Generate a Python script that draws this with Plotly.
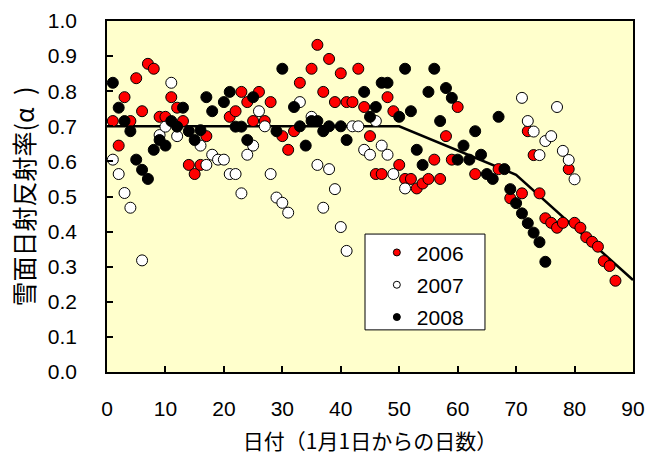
import plotly.graph_objects as go

# Snow-surface albedo by day of year (days since Jan 1)
days_2006 = [1, 2, 3, 4, 5, 6, 7, 8, 9, 10, 11, 12, 13, 14, 15, 16, 17,
             21, 22, 23, 24, 25, 26, 27, 28, 30, 31, 32, 33,
             35, 36, 37, 38, 39, 40, 41, 42, 43, 44, 45, 46, 47, 48, 49, 50,
             51, 52, 53, 54, 55, 56, 57, 58, 59, 60, 63, 67, 69, 71, 72, 73, 74,
             75, 76, 77, 78, 79, 80, 81, 82, 83, 84, 85, 86, 87]
albedo_2006 = [0.715, 0.645, 0.783, 0.715, 0.837, 0.743, 0.878, 0.864, 0.727, 0.727,
               0.783, 0.753, 0.715, 0.590, 0.564, 0.590, 0.672,
               0.727, 0.743, 0.798, 0.769, 0.715, 0.798, 0.715, 0.769, 0.672, 0.633, 0.686, 0.824,
               0.864, 0.932, 0.798, 0.892, 0.769, 0.851, 0.769, 0.769, 0.864, 0.755, 0.672,
               0.564, 0.564, 0.783, 0.743, 0.590,
               0.550, 0.550, 0.523, 0.537, 0.550, 0.605, 0.550, 0.672, 0.605, 0.755,
               0.564, 0.578, 0.495, 0.509, 0.686, 0.618, 0.509,
               0.438, 0.425, 0.411, 0.425, 0.578, 0.425, 0.411, 0.384, 0.371, 0.357,
               0.316, 0.302, 0.260]

days_2007 = [1, 2, 3, 4, 6, 9, 10, 11, 12, 16, 17, 18, 19, 20, 21, 22, 23, 24, 25,
             26, 27, 28, 29, 30, 31, 33, 35, 36, 37, 38, 39, 40, 41, 42, 43, 44, 45,
             46, 47, 48, 49, 51, 71, 72, 73, 74, 75, 76, 77, 78, 79, 80]
albedo_2007 = [0.605, 0.564, 0.510, 0.468, 0.318, 0.675, 0.699, 0.824, 0.672, 0.645,
               0.590, 0.619, 0.605, 0.605, 0.564, 0.564, 0.509, 0.619, 0.645,
               0.743, 0.700, 0.564, 0.497, 0.482, 0.454, 0.769, 0.727, 0.590, 0.468,
               0.578, 0.521, 0.413, 0.345, 0.700, 0.700, 0.633, 0.619,
               0.715, 0.645, 0.619, 0.564, 0.523, 0.781, 0.715, 0.685, 0.618, 0.658,
               0.672, 0.755, 0.630, 0.604, 0.549]

days_2008 = [1, 2, 3, 4, 5, 6, 7, 8, 9, 10, 11, 12, 13, 14, 15, 16, 17, 18, 20, 21,
             22, 23, 24, 25, 29, 30, 32, 33, 34, 35, 36, 37, 38, 40, 41, 44, 45, 46,
             47, 48, 50, 51, 52, 53, 54, 55, 56, 57, 58, 59, 60, 61, 62, 63, 64, 65,
             66, 67, 68, 69, 70, 71, 72, 73, 74, 75]
albedo_2008 = [0.824, 0.753, 0.715, 0.686, 0.605, 0.576, 0.550, 0.633, 0.661, 0.645,
               0.715, 0.699, 0.753, 0.686, 0.661, 0.689, 0.783, 0.743, 0.769, 0.798,
               0.699, 0.699, 0.661, 0.783, 0.686, 0.864, 0.755, 0.700, 0.645, 0.715,
               0.715, 0.686, 0.700, 0.700, 0.661, 0.798, 0.727, 0.755,
               0.824, 0.824, 0.727, 0.864, 0.743, 0.633, 0.590, 0.798, 0.864, 0.715,
               0.809, 0.781, 0.605, 0.645, 0.605, 0.686, 0.619, 0.564,
               0.550, 0.727, 0.578, 0.521, 0.481, 0.452, 0.424, 0.397, 0.370, 0.314]

# Piecewise albedo model line
model_days = [0, 50, 70, 90]
model_albedo = [0.70, 0.70, 0.562, 0.262]

years = ["2006", "2007", "2008"]
fill_colors = ["#FF0000", "#FFFFFF", "#000000"]
series = [(days_2006, albedo_2006), (days_2007, albedo_2007), (days_2008, albedo_2008)]

x_ticks = [0, 10, 20, 30, 40, 50, 60, 70, 80, 90]
y_ticks = [0.0, 0.1, 0.2, 0.3, 0.4, 0.5, 0.6, 0.7, 0.8, 0.9, 1.0]

fig = go.Figure()

fig.add_trace(go.Scatter(
    x=model_days, y=model_albedo, mode="lines",
    line=dict(color="black", width=2.5), showlegend=False, hoverinfo="skip"))

for (dx, dy), name, col in zip(series, years, fill_colors):
    fig.add_trace(go.Scatter(
        x=dx, y=dy, mode="markers", name=name, showlegend=False,
        marker=dict(size=11, color=col, line=dict(color="black", width=1))))

# small legend symbols
for name, col in zip(years, fill_colors):
    fig.add_trace(go.Scatter(
        x=[None], y=[None], mode="markers", name=name, legendgroup=name,
        marker=dict(size=7, color=col, line=dict(color="black", width=1))))

axis_common = dict(
    showline=True, linecolor="black", linewidth=1.5, mirror=True,
    ticks="inside", ticklen=6, tickwidth=1.5, tickcolor="black",
    showgrid=False, zeroline=False,
    tickfont=dict(family="Liberation Sans, Arial", size=21, color="black"),
)

fig.update_xaxes(
    range=[0, 90], tickvals=x_ticks, ticktext=[str(v) for v in x_ticks],
    ticklabelstandoff=17,
    title=dict(text="日付（1月1日からの日数）", standoff=15,
               font=dict(family="Noto Sans CJK JP", size=21, color="black")),
    **axis_common)

fig.update_yaxes(
    range=[0, 1.0], tickvals=y_ticks, ticktext=[f"{v:.1f}" for v in y_ticks],
    ticklabelstandoff=24,
    title=dict(text="雪面日射反射率(α\u2002)", standoff=6,
               font=dict(family="Noto Sans CJK JP", size=25, color="black")),
    **axis_common)

# legend frame
fig.add_shape(type="rect", xref="paper", yref="paper",
              x0=0.4905, x1=0.7186, y0=0.12, y1=0.393,
              line=dict(color="black", width=1), fillcolor="white", layer="above")

fig.update_layout(
    width=647, height=457,
    margin=dict(l=107, r=14, t=21, b=85, autoexpand=False),
    paper_bgcolor="white", plot_bgcolor="#FFFFCC",
    showlegend=True,
    legend=dict(x=0.513, y=0.398, xanchor="left", yanchor="top",
                bgcolor="rgba(0,0,0,0)", borderwidth=0, tracegroupgap=2,
                font=dict(family="Liberation Sans, Arial", size=21, color="black")),
)

fig.write_html("out.html")
